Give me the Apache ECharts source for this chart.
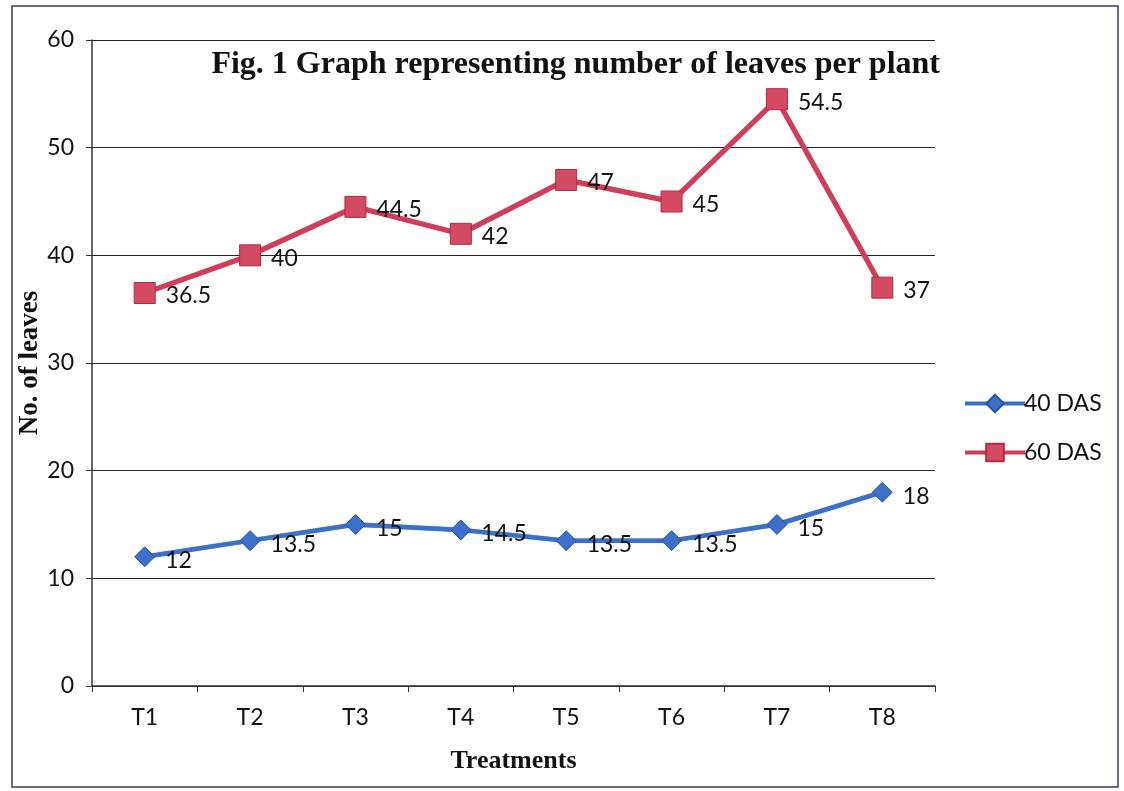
<!DOCTYPE html>
<html>
<head>
<meta charset="utf-8">
<script src="https://cdn.jsdelivr.net/npm/echarts@6/dist/echarts.min.js"></script>
<style>
  html, body { margin: 0; padding: 0; background: #fff; }
  #main { width: 1124px; height: 791px; }
</style>
</head>
<body>
<div id="main"></div>
<script>
var treatments = ['T1', 'T2', 'T3', 'T4', 'T5', 'T6', 'T7', 'T8'];
var das40 = [12, 13.5, 15, 14.5, 13.5, 13.5, 15, 18];
var das60 = [36.5, 40, 44.5, 42, 47, 45, 54.5, 37];
var yTicks = [0, 10, 20, 30, 40, 50, 60];

var labelFont = 'Lato, "Open Sans", sans-serif';
var serifFont = '"Liberation Serif", "DejaVu Serif", serif';

var chart = echarts.init(document.getElementById('main'));

var option = {
    animation: false,
    title: {
        text: 'Fig. 1 Graph representing number of leaves per plant',
        right: 179,
        top: 44,
        textStyle: { fontFamily: serifFont, fontWeight: 'bold', fontSize: 32, color: '#111' }
    },
    legend: {
        orient: 'vertical',
        left: 958,
        top: 387,
        itemWidth: 60,
        itemHeight: 22,
        itemGap: 26,
        data: ['40 DAS', '60 DAS'],
        lineStyle: { width: 4 },
        textStyle: { fontFamily: labelFont, fontSize: 23, color: '#111', padding: [0, 0, 0, -6] }
    },
    grid: { left: 92, right: 189, top: 40, bottom: 105 },
    xAxis: {
        type: 'category',
        data: treatments,
        boundaryGap: true,
        name: 'Treatments',
        nameLocation: 'middle',
        nameGap: 62,
        nameMoveOverlap: false,
        nameTextStyle: { fontFamily: serifFont, fontWeight: 'bold', fontSize: 26, color: '#111' },
        axisLine: { lineStyle: { color: '#333', width: 1.5 } },
        axisTick: { show: true, length: 6, inside: false, lineStyle: { color: '#333' } },
        axisLabel: { fontFamily: labelFont, fontSize: 23, color: '#111', margin: 20 }
    },
    yAxis: {
        type: 'value',
        min: 0,
        max: 60,
        interval: 10,
        name: 'No. of leaves',
        nameLocation: 'middle',
        nameGap: 48,
        nameMoveOverlap: false,
        nameTextStyle: { fontFamily: serifFont, fontWeight: 'bold', fontSize: 27, color: '#111' },
        axisLine: { show: true, lineStyle: { color: '#333', width: 1.5 } },
        axisTick: { show: true, length: 6, lineStyle: { color: '#333' } },
        axisLabel: {
            fontFamily: labelFont, fontSize: 23, color: '#111', margin: 18,
            formatter: function (v) { return yTicks.indexOf(v) >= 0 ? String(v) : ''; }
        },
        splitLine: { lineStyle: { color: '#222', width: 1.2 } }
    },
    series: [
        {
            name: '40 DAS',
            type: 'line',
            data: das40,
            symbol: 'diamond',
            symbolSize: 20,
            lineStyle: { color: '#3c6fc8', width: 4.5, shadowColor: 'rgba(30,60,130,0.6)', shadowBlur: 1 },
            itemStyle: { color: '#3c6fc8', borderColor: '#2a55a0', borderWidth: 1 },
            label: {
                show: true, position: 'right', distance: 10, offset: [0, 4],
                fontFamily: labelFont, fontSize: 23, color: '#111'
            }
        },
        {
            name: '60 DAS',
            type: 'line',
            data: das60,
            symbol: 'rect',
            symbolSize: 21,
            lineStyle: { color: '#cf3d5a', width: 5, shadowColor: 'rgba(140,20,40,0.6)', shadowBlur: 1 },
            itemStyle: { color: '#d44a64', borderColor: '#b02a44', borderWidth: 1 },
            label: {
                show: true, position: 'right', distance: 10, offset: [0, 3],
                fontFamily: labelFont, fontSize: 23, color: '#111'
            }
        }
    ],
    graphic: [
        {
            type: 'rect',
            shape: { x: 12, y: 6, width: 1106, height: 781 },
            style: { fill: 'none', stroke: '#3a3a5a', lineWidth: 1.5 },
            silent: true
        }
    ]
};

chart.setOption(option);
</script>
</body>
</html>
